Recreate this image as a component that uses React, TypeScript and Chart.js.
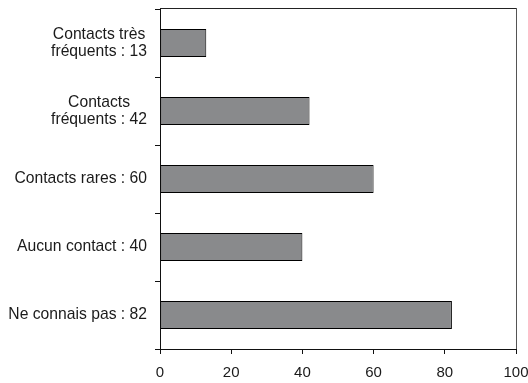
import { useEffect, useRef } from 'react';
import { Chart, registerables } from 'chart.js';

Chart.register(...registerables);

const categories: string[][] = [
  ['Contacts très', 'fréquents : 13'],
  ['Contacts', 'fréquents : 42'],
  ['Contacts rares : 60'],
  ['Aucun contact : 40'],
  ['Ne connais pas : 82'],
];
const counts = [13, 42, 60, 40, 82];
const xTicks = [0, 20, 40, 60, 80, 100];

const FONT = '"Liberation Sans", Arial, sans-serif';
const TEXT = '#1a1a1a';

// Category labels: lines centred on each other, block right-aligned against the axis
const categoryLabels = {
  id: 'categoryLabels',
  afterDraw(chart: any) {
    const { ctx, chartArea, scales } = chart;
    const y = scales.y;
    ctx.save();
    ctx.font = `15.7px ${FONT}`;
    ctx.fillStyle = TEXT;
    ctx.textAlign = 'center';
    ctx.textBaseline = 'middle';
    const right = chartArea.left - 13;
    categories.forEach((lines, i) => {
      const cy = y.getPixelForValue(i);
      const w = Math.max(...lines.map((l) => ctx.measureText(l).width));
      const cx = right - w / 2;
      lines.forEach((line, j) => {
        ctx.fillText(line, cx, cy + (j - (lines.length - 1) / 2) * 17);
      });
    });
    // top and right edges of the plot frame
    ctx.lineWidth = 1;
    ctx.strokeStyle = '#222';
    ctx.beginPath();
    ctx.moveTo(Math.round(chartArea.left), Math.round(chartArea.top) - 0.5);
    ctx.lineTo(Math.round(chartArea.right) + 0.5, Math.round(chartArea.top) - 0.5);
    ctx.stroke();
    ctx.strokeStyle = '#555';
    ctx.beginPath();
    ctx.moveTo(Math.round(chartArea.right) + 0.5, Math.round(chartArea.top) - 1);
    ctx.lineTo(Math.round(chartArea.right) + 0.5, Math.round(chartArea.bottom));
    ctx.stroke();
    ctx.restore();
  },
};

export default function App() {
  const canvasRef = useRef<HTMLCanvasElement | null>(null);

  useEffect(() => {
    document.body.style.margin = '0';
    if (!canvasRef.current) return;
    const chart = new Chart(canvasRef.current, {
      type: 'bar',
      data: {
        labels: categories,
        datasets: [
          {
            data: counts,
            backgroundColor: '#898a8c',
            borderColor: '#000',
            borderWidth: 1,
            borderSkipped: false,
            inflateAmount: 0,
            barThickness: 28,
          },
        ],
      },
      options: {
        indexAxis: 'y',
        animation: false,
        responsive: true,
        maintainAspectRatio: false,
        layout: { padding: { top: 9, right: 0, left: 0, bottom: 0 } },
        plugins: {
          legend: { display: false },
          tooltip: { enabled: false },
        },
        scales: {
          y: {
            type: 'category',
            offset: true,
            afterFit: (scale: any) => {
              scale.width = 160;
            },
            ticks: { display: false },
            grid: {
              offset: true,
              drawOnChartArea: false,
              drawTicks: true,
              tickLength: 5,
              color: '#111',
            },
            border: { display: true, color: '#111', width: 1 },
          },
          x: {
            type: 'linear',
            min: 0,
            max: 100,
            afterBuildTicks: (scale: any) => {
              scale.ticks = xTicks.map((v) => ({ value: v }));
            },
            afterFit: (scale: any) => {
              scale.height = 34;
              scale.paddingRight = 12;
            },
            ticks: {
              color: TEXT,
              padding: 10,
              maxRotation: 0,
              font: { family: FONT, size: 15 },
            },
            grid: {
              drawOnChartArea: false,
              drawTicks: true,
              tickLength: 5,
              color: '#111',
            },
            border: { display: true, color: '#111', width: 1 },
          },
        },
      },
      plugins: [categoryLabels],
    });
    return () => chart.destroy();
  }, []);

  return (
    <div style={{ width: 528, height: 383, position: 'relative', overflow: 'hidden' }}>
      <canvas ref={canvasRef} />
    </div>
  );
}
